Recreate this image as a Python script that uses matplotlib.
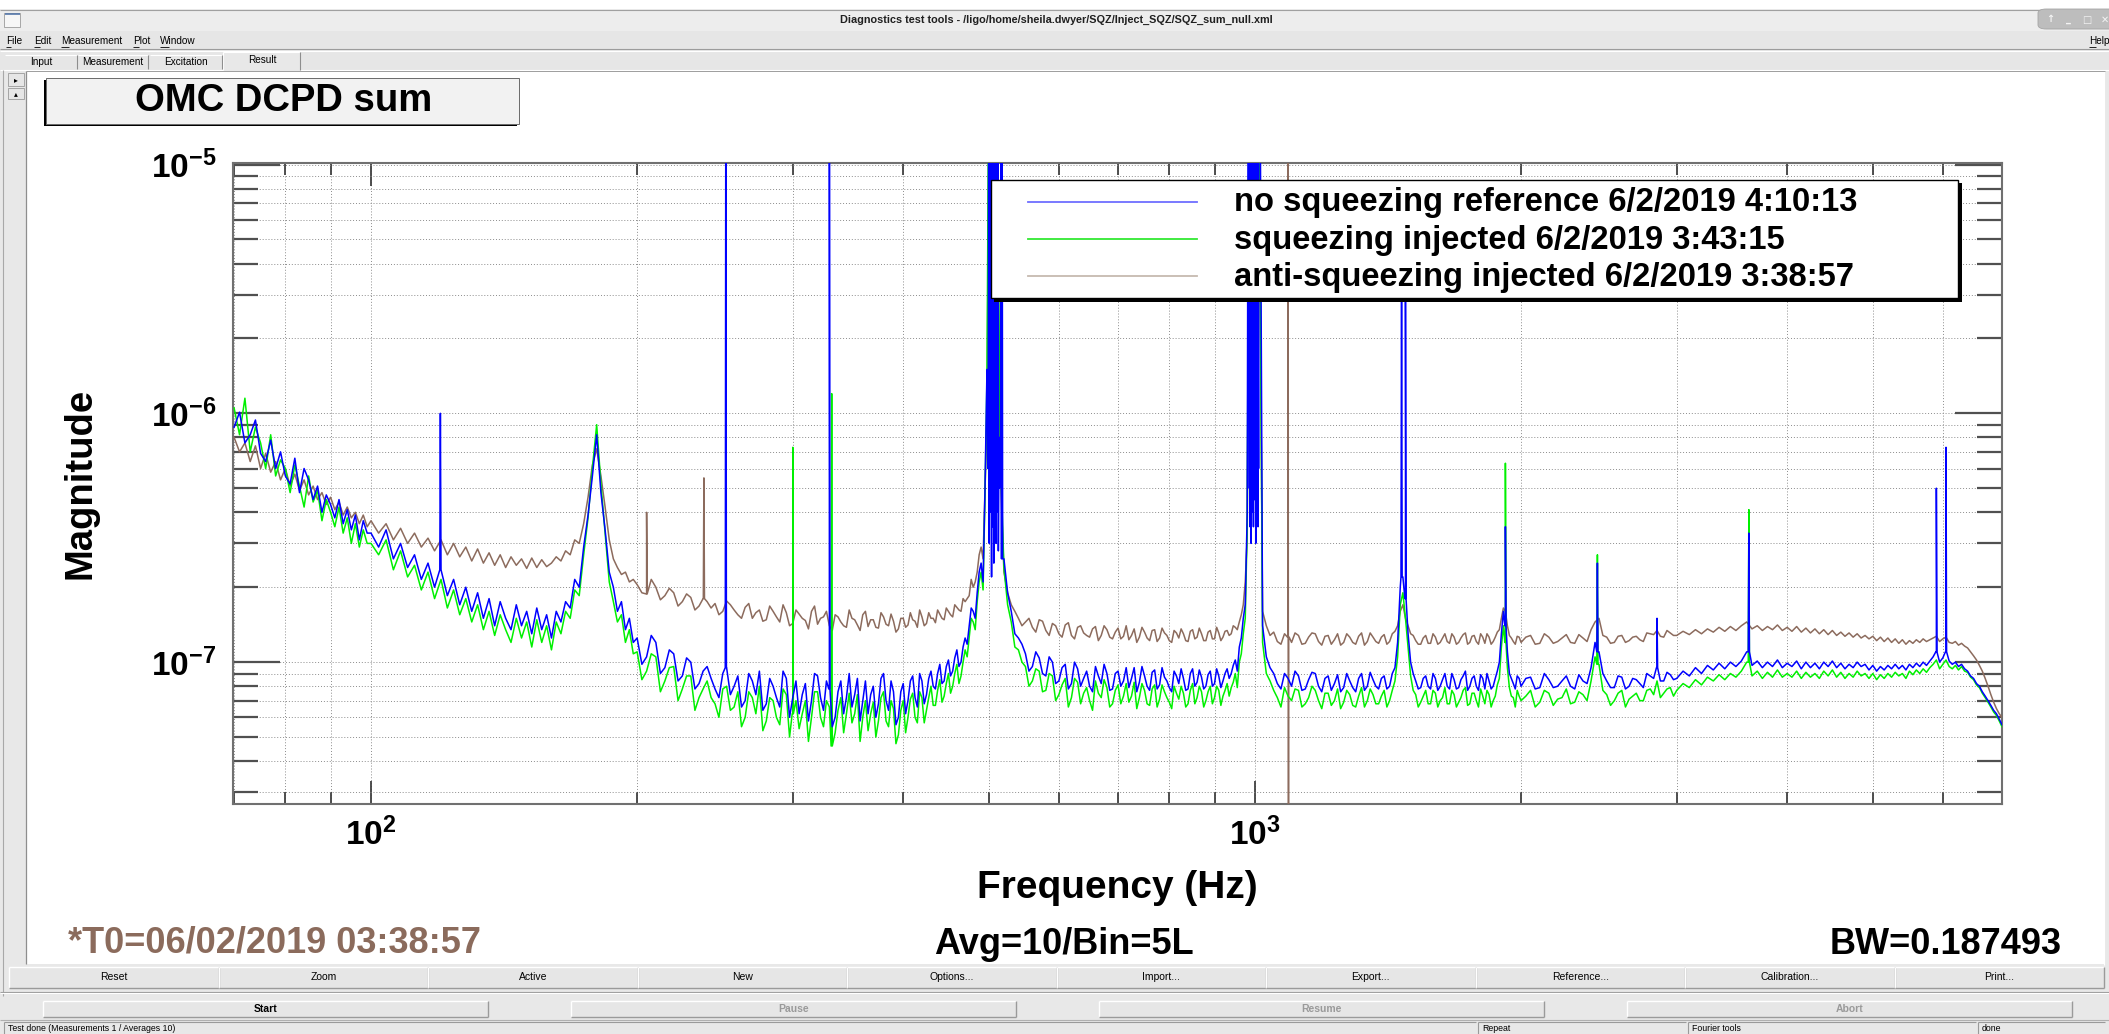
import numpy as np
import matplotlib
matplotlib.use('Agg')
import matplotlib.pyplot as plt
from matplotlib.patches import Rectangle, FancyBboxPatch
from matplotlib.lines import Line2D
from matplotlib.ticker import LogLocator, NullFormatter

plt.rcParams['font.family'] = ['Liberation Sans', 'DejaVu Sans']
plt.rcParams['mathtext.fontset'] = 'custom'
plt.rcParams['mathtext.rm'] = 'Liberation Sans'
plt.rcParams['mathtext.bf'] = 'Liberation Sans:bold'
plt.rcParams['mathtext.it'] = 'Liberation Sans:italic'

# ------------------------------------------------------------------ data
freq_hz = [
    70, 71, 72, 73, 74, 75, 76, 77, 78, 79, 80, 81, 82, 83, 84, 85, 86, 87, 88, 89,
    90, 91, 92, 93, 94, 95, 96, 97, 98, 99,
    100, 102, 104, 106, 108, 110, 112, 114, 116, 118, 120, 122, 124, 126, 128, 130, 132, 134, 136, 138,
    140, 142, 144, 146, 148, 150, 152, 154, 156, 158, 160, 162, 164, 166, 168, 170, 172, 174, 176, 178,
    180, 182, 184, 186, 188, 190, 192, 194, 196, 198,
    200, 205, 210, 215, 220, 225, 230, 235, 240, 245, 250, 255, 260, 265, 270, 275, 280, 285, 290, 295,
    300, 305, 310, 315, 320, 325, 330, 335, 340, 345, 350, 355, 360, 365, 370, 375, 380, 385, 390, 395,
    400, 405, 410, 415, 420, 425, 430, 435, 440, 445, 450, 455, 460, 465, 470, 475, 480, 485, 490, 495,
    500, 510, 520, 530, 540, 550, 560, 570, 580, 590, 600, 610, 620, 630, 640, 650, 660, 670, 680, 690,
    700, 710, 720, 730, 740, 750, 760, 770, 780, 790, 800, 810, 820, 830, 840, 850, 860, 870, 880, 890,
    900, 910, 920, 930, 940, 950, 960, 970, 980, 990,
    1000, 1020, 1040, 1060, 1080, 1100, 1120, 1140, 1160, 1180, 1200, 1220, 1240, 1260, 1280, 1300,
    1320, 1340, 1360, 1380, 1400, 1420, 1440, 1460, 1480, 1500, 1520, 1540, 1560, 1580, 1600, 1620,
    1640, 1660, 1680, 1700, 1720, 1740, 1760, 1780, 1800, 1820, 1840, 1860, 1880, 1900, 1920, 1940,
    1960, 1980,
    2000, 2050, 2100, 2150, 2200, 2250, 2300, 2350, 2400, 2450, 2500, 2550, 2600, 2650, 2700, 2750,
    2800, 2850, 2900, 2950, 3000, 3050, 3100, 3150, 3200, 3250, 3300, 3350, 3400, 3450, 3500, 3550,
    3600, 3650, 3700, 3750, 3800, 3850, 3900, 3950, 4000, 4050, 4100, 4150, 4200, 4250, 4300, 4350,
    4400, 4450, 4500, 4550, 4600, 4650, 4700, 4750, 4800, 4850, 4900, 4950, 5000, 5050, 5100, 5150,
    5200, 5250, 5300, 5350, 5400, 5450, 5500, 5550, 5600, 5650, 5700, 5750, 5800, 5850, 5900, 5950,
    6000, 6050, 6100, 6150, 6200, 6250, 6300, 6350, 6400, 6450, 6500, 6550, 6600, 6650, 6700, 6750,
    6800, 6850, 6900, 6950, 7000,
]

# magnitudes in units of 1e-9
blue_e9 = [
    880, 1010, 760, 820, 940, 690, 640, 780, 600, 700, 560, 520, 660, 480, 600, 540, 450, 510, 400, 470,
    430, 380, 450, 360, 410, 340, 390, 310, 370, 330,
    330, 290, 340, 260, 300, 240, 270, 215, 250, 200, 235, 185, 215, 170, 200, 160, 190, 150, 180, 140,
    175, 150, 135, 170, 140, 160, 130, 165, 135, 155, 125, 160, 145, 175, 165, 215, 200, 290, 390, 560,
    820, 480, 340, 230, 200, 160, 175, 135, 150, 120,
    125, 105, 120, 95, 108, 88, 100, 82, 96, 78, 90, 74, 88, 70, 84, 92, 68, 80, 66, 86,
    72, 62, 82, 70, 88, 64, 78, 60, 84, 72, 66, 86, 70, 62, 80, 68, 90, 64, 76, 60,
    82, 70, 88, 66, 84, 74, 92, 78, 98, 84, 102, 92, 112, 100, 125, 140, 160, 190, 250, 500,
    30000, 30000, 260, 160, 125, 108, 96, 104, 88, 100, 84, 98, 82, 94, 86, 80, 96, 82, 90, 78,
    92, 84, 79, 95, 83, 88, 77, 93, 81, 87, 79, 92, 82, 86, 78, 94, 83, 87, 80, 92,
    82, 88, 84, 94, 90, 102, 115, 150, 400, 30000,
    30000, 140, 95, 82, 90, 80, 88, 78, 91, 80, 86, 77, 89, 79, 84, 76, 90, 80, 85, 78,
    88, 80, 95, 200, 180, 100, 84, 79, 88, 78, 86, 80, 90, 78, 85, 79, 88, 77, 86, 80,
    89, 78, 84, 80, 92, 130, 140, 90, 82, 88,
    80, 87, 79, 85, 80, 88, 78, 84, 95, 110, 84, 79, 87, 80, 85, 79, 88, 95, 84, 89,
    86, 92, 88, 95, 90, 97, 93, 99, 94, 100, 96, 101, 110, 97, 101, 95, 100, 96, 102, 95,
    99, 96, 101, 94, 100, 95, 99, 94, 100, 96, 101, 95, 99, 94, 98, 95, 100, 96, 98, 93,
    97, 92, 96, 93, 97, 94, 98, 94, 97, 93, 98, 95, 99, 96, 100, 97, 101, 105, 110, 100,
    104, 110, 101, 98, 100, 96, 98, 94, 92, 88, 86, 82, 80, 76, 73, 70, 67, 64, 62, 59,
    56,
]
green_e9 = [
    1050, 820, 1150, 700, 880, 760, 600, 820, 560, 650, 600, 480, 620, 510, 420, 560, 440, 490, 370, 450,
    400, 350, 420, 330, 380, 300, 360, 290, 340, 300,
    300, 270, 310, 235, 280, 220, 245, 195, 230, 180, 215, 165, 195, 155, 180, 145, 170, 135, 160, 128,
    155, 135, 120, 150, 125, 145, 115, 148, 120, 140, 112, 145, 130, 160, 150, 195, 185, 270, 380, 600,
    900, 520, 330, 210, 175, 145, 155, 120, 135, 108,
    110, 92, 105, 84, 96, 78, 88, 72, 84, 68, 78, 64, 76, 60, 72, 80, 58, 70, 56, 74,
    62, 54, 70, 60, 76, 55, 66, 52, 72, 62, 57, 74, 60, 53, 69, 58, 76, 55, 65, 51,
    70, 60, 75, 57, 72, 64, 80, 67, 85, 73, 90, 80, 98, 88, 112, 125, 145, 175, 230, 470,
    28000, 28000, 240, 145, 112, 96, 84, 92, 77, 88, 74, 86, 72, 83, 75, 70, 84, 72, 79, 68,
    81, 73, 69, 83, 72, 77, 67, 81, 71, 76, 69, 80, 71, 75, 68, 82, 72, 76, 70, 80,
    72, 77, 73, 82, 79, 90, 100, 130, 350, 28000,
    28000, 120, 84, 72, 79, 70, 77, 68, 80, 70, 75, 67, 78, 69, 74, 66, 79, 70, 74, 68,
    77, 70, 84, 170, 150, 88, 74, 69, 77, 68, 75, 70, 79, 68, 74, 69, 77, 67, 75, 70,
    78, 68, 74, 70, 81, 115, 120, 79, 72, 77,
    70, 77, 69, 75, 71, 78, 69, 74, 84, 98, 74, 70, 77, 71, 75, 70, 78, 84, 75, 79,
    77, 82, 79, 85, 81, 87, 84, 89, 85, 90, 87, 92, 100, 88, 92, 86, 91, 87, 93, 87,
    90, 87, 92, 86, 91, 87, 90, 86, 92, 88, 93, 87, 91, 86, 90, 87, 92, 88, 90, 86,
    90, 85, 89, 86, 90, 87, 91, 88, 90, 86, 92, 89, 93, 90, 94, 91, 95, 98, 102, 94,
    98, 102, 96, 94, 97, 93, 96, 92, 91, 87, 85, 81, 79, 75, 72, 69, 66, 63, 61, 58,
    55,
]
brown_e9 = [
    800, 700, 760, 640, 740, 600, 690, 580, 640, 540, 600, 510, 570, 490, 540, 470, 510, 450, 480, 430,
    460, 410, 440, 390, 420, 380, 400, 360, 390, 350,
    370, 330, 360, 310, 345, 300, 330, 290, 315, 280, 310, 270, 300, 265, 290, 255, 285, 250, 275, 245,
    270, 240, 265, 245, 260, 238, 262, 240, 258, 242, 250, 265, 255, 280, 270, 310, 300, 360, 460, 620,
    720, 560, 420, 310, 260, 240, 225, 230, 210, 215,
    205, 188, 200, 185, 190, 175, 182, 168, 175, 172, 160, 170, 155, 166, 150, 162, 148, 160, 145, 158,
    143, 156, 147, 160, 142, 152, 140, 155, 145, 138, 150, 141, 155, 139, 148, 137, 152, 140, 146, 136,
    150, 141, 148, 138, 152, 143, 150, 144, 156, 148, 160, 152, 166, 160, 175, 185, 200, 230, 290, 500,
    15000, 15000, 230, 170, 150, 145, 138, 148, 134, 143, 130, 141, 128, 138, 131, 126, 139, 128, 135, 124,
    137, 127, 123, 136, 126, 132, 122, 135, 125, 131, 122, 134, 125, 130, 121, 135, 126, 130, 122, 134,
    124, 131, 126, 134, 130, 138, 145, 170, 320, 15000,
    15000, 160, 128, 121, 130, 120, 128, 119, 131, 121, 127, 118, 130, 120, 126, 118, 131, 121, 126, 119,
    129, 121, 133, 160, 150, 130, 122, 118, 128, 119, 126, 120, 130, 119, 126, 120, 129, 118, 127, 121,
    130, 119, 126, 121, 132, 150, 160, 128, 121, 127,
    120, 128, 119, 126, 121, 129, 119, 125, 135, 150, 126, 120, 128, 122, 127, 121, 130, 134, 126, 131,
    128, 133, 129, 135, 130, 136, 132, 138, 133, 139, 134, 140, 145, 136, 140, 134, 139, 135, 141, 134,
    138, 133, 139, 132, 137, 131, 136, 130, 135, 129, 134, 128, 132, 127, 131, 126, 130, 125, 128, 124,
    127, 122, 126, 121, 125, 120, 124, 119, 123, 118, 122, 119, 123, 120, 124, 121, 123, 125, 127, 121,
    124, 126, 120, 119, 121, 117, 119, 116, 114, 110, 106, 102, 97, 92, 86, 80, 74, 69, 65, 62,
    60,
]

# in-between bins (200 Hz - 3 kHz), same units
fine_freq_hz = [
    202.5, 207.5, 212.5, 217.5, 222.5, 227.5, 232.5, 237.5, 242.5, 247.5,
    252.5, 257.5, 262.5, 267.5, 272.5, 277.5, 282.5, 287.5, 292.5, 297.5,
    302.5, 307.5, 312.5, 317.5, 322.5, 327.5, 332.5, 337.5, 342.5, 347.5,
    352.5, 357.5, 362.5, 367.5, 372.5, 377.5, 382.5, 387.5, 392.5, 397.5,
    402.5, 407.5, 412.5, 417.5, 422.5, 427.5, 432.5, 437.5, 442.5, 447.5,
    452.5, 457.5, 462.5, 467.5, 472.5, 477.5, 482.5, 487.5, 492.5, 497.5,
    505, 515, 525, 535, 545, 555, 565, 575, 585, 595,
    605, 615, 625, 635, 645, 655, 665, 675, 685, 695,
    705, 715, 725, 735, 745, 755, 765, 775, 785, 795,
    805, 815, 825, 835, 845, 855, 865, 875, 885, 895,
    905, 915, 925, 935, 945, 955, 965, 975, 985, 995,
    1010, 1030, 1050, 1070, 1090, 1110, 1130, 1150, 1170, 1190,
    1210, 1230, 1250, 1270, 1290, 1310, 1330, 1350, 1370, 1390,
    1410, 1430, 1450, 1470, 1490, 1510, 1530, 1550, 1570, 1590,
    1610, 1630, 1650, 1670, 1690, 1710, 1730, 1750, 1770, 1790,
    1810, 1830, 1850, 1870, 1890, 1910, 1930, 1950, 1970, 1990,
    2025, 2075, 2125, 2175, 2225, 2275, 2325, 2375, 2425, 2475,
    2525, 2575, 2625, 2675, 2725, 2775, 2825, 2875, 2925, 2975,
]
blue_fine_e9 = [
    98, 128, 90, 112, 84, 104, 78, 92, 86, 72,
    95, 80, 66, 90, 74, 64, 86, 72, 92, 60,
    84, 74, 58, 90, 72, 84, 55, 76, 62, 90,
    74, 58, 84, 74, 60, 86, 70, 84, 56, 76,
    62, 84, 72, 90, 68, 86, 80, 90, 82, 96,
    88, 104, 96, 115, 118, 165, 150, 230, 210, 1500,
    30000, 800, 190, 130, 118, 92, 110, 90, 105, 82,
    95, 78, 100, 80, 92, 76, 88, 98, 77, 90,
    80, 95, 86, 76, 96, 80, 91, 78, 95, 84,
    76, 88, 94, 77, 90, 80, 93, 78, 89, 80,
    94, 79, 90, 86, 97, 92, 125, 170, 30000, 30000,
    30000, 105, 90, 78, 86, 92, 77, 85, 90, 76,
    88, 82, 76, 90, 79, 86, 77, 91, 80, 86,
    78, 90, 120, 220, 130, 90, 78, 86, 80, 90,
    77, 85, 80, 90, 78, 85, 92, 80, 88, 77,
    86, 90, 78, 86, 100, 160, 110, 86, 78, 86,
    86, 78, 90, 79, 84, 80, 89, 82, 120, 90,
    79, 88, 78, 86, 82, 90, 86, 84, 91, 85,
]
green_fine_e9 = [
    85, 108, 76, 95, 70, 88, 64, 78, 72, 60,
    80, 66, 55, 76, 62, 53, 72, 60, 78, 50,
    70, 62, 48, 76, 60, 70, 46, 64, 52, 75,
    62, 48, 70, 62, 50, 72, 58, 70, 47, 64,
    52, 71, 60, 76, 57, 72, 67, 77, 69, 82,
    75, 90, 82, 100, 105, 150, 135, 210, 195, 1400,
    28000, 700, 170, 115, 100, 80, 94, 76, 90, 70,
    81, 66, 86, 68, 79, 64, 75, 85, 66, 77,
    68, 82, 73, 65, 82, 68, 78, 66, 81, 72,
    65, 75, 80, 66, 77, 68, 80, 66, 76, 68,
    80, 67, 77, 73, 83, 79, 108, 150, 28000, 28000,
    28000, 90, 77, 66, 73, 78, 66, 72, 77, 65,
    75, 70, 65, 77, 67, 73, 66, 78, 68, 73,
    66, 77, 105, 190, 115, 77, 66, 73, 68, 77,
    66, 72, 68, 77, 66, 72, 79, 68, 75, 66,
    73, 77, 66, 73, 86, 140, 95, 73, 66, 73,
    73, 66, 77, 67, 72, 68, 76, 70, 105, 77,
    67, 75, 66, 73, 70, 77, 74, 72, 78, 73,
]
brown_fine_e9 = [
    190, 215, 178, 198, 168, 188, 162, 180, 165, 155,
    176, 162, 150, 172, 158, 146, 168, 152, 170, 140,
    162, 150, 136, 168, 150, 160, 134, 152, 140, 162,
    148, 134, 160, 148, 138, 158, 142, 156, 132, 150,
    138, 158, 146, 162, 140, 158, 150, 162, 150, 165,
    155, 170, 162, 180, 180, 215, 210, 270, 260, 900,
    15000, 600, 190, 160, 140, 150, 132, 146, 128, 140,
    126, 144, 124, 140, 128, 136, 122, 140, 126, 132,
    124, 140, 128, 120, 138, 125, 134, 121, 137, 128,
    120, 131, 136, 122, 133, 124, 137, 122, 132, 124,
    138, 122, 133, 128, 140, 135, 155, 210, 15000, 15000,
    15000, 140, 132, 118, 126, 131, 118, 126, 130, 117,
    128, 123, 117, 130, 120, 127, 117, 131, 121, 126,
    118, 130, 140, 170, 140, 128, 118, 125, 119, 130,
    118, 125, 121, 130, 118, 125, 131, 120, 128, 118,
    126, 130, 118, 126, 135, 165, 140, 125, 118, 126,
    126, 118, 130, 119, 125, 120, 129, 121, 145, 128,
    119, 127, 120, 126, 123, 131, 129, 127, 134, 128,
]

# narrow lines (frequency in Hz, line tip magnitude)
blue_spike_hz = [119.8, 252, 330,
                 498.5, 500.5, 502, 503.5, 505, 506.5, 508, 509.5, 511, 512.5, 514, 516, 517.5,
                 984, 985.5, 987, 988.5, 990, 991.5, 993, 994.5, 996, 997.5, 999, 1000.5,
                 1002, 1003.5, 1005, 1006.5, 1008, 1009.5, 1011.5,
                 1465, 1480, 1920, 2440, 2850, 3620, 5900, 6050]
blue_spike_mag = [1.0e-6, 3e-5, 3e-5,
                  6e-7, 3e-7, 4e-7, 2.2e-7, 3.5e-7, 2.5e-7, 5e-7, 3e-7, 4e-7, 2.8e-7, 5e-7, 3e-5, 3e-5,
                  3e-5, 5e-7, 3.5e-7, 6e-7, 3e-7, 8e-7, 4e-7, 1e-6, 3.5e-7, 7e-7, 4.5e-7, 9e-7,
                  3e-7, 6e-7, 4e-7, 8e-7, 3.5e-7, 6e-7, 3e-5,
                  3.7e-6, 2.9e-6, 3.5e-7, 2.5e-7, 1.5e-7, 3.3e-7, 5.0e-7, 7.3e-7]
green_spike_hz = [300, 332, 1920, 2440, 3620]
green_spike_mag = [7.3e-7, 1.2e-6, 6.3e-7, 2.7e-7, 4.1e-7]
brown_spike_hz = [205, 238, 1090, 1091.5]
brown_spike_mag = [4.0e-7, 5.5e-7, 1e-3, 1e-11]

series_labels = ['no squeezing reference 6/2/2019 4:10:13',
                 'squeezing injected 6/2/2019 3:43:15',
                 'anti-squeezing injected 6/2/2019 3:38:57']
series_colors = ['#0000ff', '#00f000', '#8c6b5d']
legend_colors = ['#6e6eff', '#33e833', '#c6bab0']

# ------------------------------------------------------------------ figure helpers
W, H = 2109, 1034
fig = plt.figure(figsize=(W / 100, H / 100), dpi=100)
fig.patch.set_facecolor('#e8e8e8')


def fx(x):
    return x / W


def fy(y):
    return 1 - y / H


def rect(x0, y0, x1, y1, fc, ec='none', lw=0, z=0):
    fig.patches.append(Rectangle((fx(x0), fy(y1)), (x1 - x0) / W, (y1 - y0) / H,
                                 transform=fig.transFigure, facecolor=fc,
                                 edgecolor=ec, linewidth=lw, zorder=z))


def line(x0, y0, x1, y1, color, lw=0.8, z=1):
    fig.lines.append(Line2D([fx(x0), fx(x1)], [fy(y0), fy(y1)], transform=fig.transFigure,
                            color=color, linewidth=lw, zorder=z, solid_capstyle='butt'))


def text(x, y, s, size=7.5, weight='normal', color='black', ha='center', va='center', **kw):
    fig.text(fx(x), fy(y), s, fontsize=size, fontweight=weight, color=color,
             ha=ha, va=va, **kw)


def button(x0, y0, x1, y1, label, color='black', weight='normal', size=7.5):
    rect(x0, y0, x1, y1, '#e6e6e6')
    line(x0, y0, x1, y0, '#ffffff', 1)
    line(x0, y0, x0, y1, '#ffffff', 1)
    line(x0, y1, x1, y1, '#9a9a9a', 1)
    line(x1, y0, x1, y1, '#9a9a9a', 1)
    text((x0 + x1) / 2, (y0 + y1) / 2, label, size=size, weight=weight, color=color)


def field(x0, y0, x1, y1, label):
    line(x0, y0, x1, y0, '#9a9a9a', 0.8)
    line(x0, y0, x0, y1, '#9a9a9a', 0.8)
    text(x0 + 4, (y0 + y1) / 2 + 0.5, label, size=6.3, ha='left')


# ------------------------------------------------------------------ window chrome
rect(0, 0, W, 9, 'white')
rect(0, 9, W, 31, '#ededed')
line(0, 9.5, W, 9.5, '#a0a0a0', 0.8)
rect(4, 13, 20, 27, '#f6f6f6', ec='#9a9a9a', lw=0.6)
line(4.5, 14, 19.5, 14, '#5577aa', 1.2)
text(1056, 20, 'Diagnostics test tools - /ligo/home/sheila.dwyer/SQZ/Inject_SQZ/SQZ_sum_null.xml',
     size=7.8, weight='bold', color='#202020')
fig.patches.append(FancyBboxPatch((fx(2038), fy(29)), (2120 - 2038) / W, 20 / H,
                                  boxstyle='round,pad=0,rounding_size=0.004',
                                  transform=fig.transFigure, facecolor='#bdbdbd',
                                  edgecolor='#a5a5a5', linewidth=0.6, zorder=1))
for xx, g in [(2050, '\u2191'), (2068, '_'), (2087, '\u25a1'), (2105, '\u2715')]:
    text(xx, 19.5, g, size=7, color='#f4f4f4', weight='bold', family=['DejaVu Sans'])

# menu bar
rect(0, 31, W, 49, '#e6e6e6')
for xx, s, ul in [(6, 'File', 5), (34, 'Edit', 6), (61, 'Measurement', 8),
                  (133, 'Plot', 6), (160, 'Window', 9), (2089, 'Help', 7)]:
    text(xx, 41, s, size=7.2, ha='left')
    line(xx, 46.5, xx + ul, 46.5, 'black', 0.6)
line(0, 49, W, 49, '#9c9c9c', 0.8)
line(0, 50.5, W, 50.5, '#ffffff', 0.8)

# tab bar
rect(0, 51, W, 70, '#e6e6e6')
line(0, 69.5, 223, 69.5, '#ffffff', 0.8)
line(300, 69.5, W, 69.5, '#ffffff', 0.8)
line(2104, 70, 2104, 965, '#ffffff', 0.8)
rect(223, 52, 300, 71, '#e8e8e8')
line(223, 52, 300, 52, '#ffffff', 0.8)
line(223, 52, 223, 70, '#ffffff', 0.8)
line(300, 52, 300, 70, '#8e8e8e', 0.8)
for x0, x1, s in [(5, 77, 'Input'), (78, 148, 'Measurement'), (150, 222, 'Excitation')]:
    line(x0, 55, x1, 55, '#ffffff', 0.8)
    line(x1, 55, x1, 69, '#8e8e8e', 0.8)
    text((x0 + x1) / 2, 62, s, size=7.2)
text(262, 60, 'Result', size=7.2)

# main panel
rect(26, 71, 2105, 964, 'white', z=-1)
line(26, 71, 26, 964, '#8e8e8e', 0.9)
line(26, 71, 2105, 71, '#8e8e8e', 0.6)
line(2.5, 70, 2.5, 996, '#a8a8a8', 0.8)
for y0, y1, g in [(73, 86, '\u25b8'), (88, 99, '\u25b4')]:
    rect(8, y0, 24, y1, '#e6e6e6', ec='#9a9a9a', lw=0.6)
    text(16, (y0 + y1) / 2, g, size=5.5, family=['DejaVu Sans'])

# buttons row 1
row1 = ['Reset', 'Zoom', 'Active', 'New', 'Options...', 'Import...', 'Export...',
        'Reference...', 'Calibration...', 'Print...']
bw = 209.5
for i, s in enumerate(row1):
    button(9 + i * bw, 967, 9 + (i + 1) * bw, 988, s)
line(0, 991.5, W, 991.5, '#9c9c9c', 0.8)
line(0, 993, W, 993, '#ffffff', 0.8)

# buttons row 2
for i, (s, c, wgt) in enumerate([('Start', 'black', 'bold'), ('Pause', '#9a9a9a', 'bold'),
                                 ('Resume', '#9a9a9a', 'bold'), ('Abort', '#9a9a9a', 'bold')]):
    x0 = 43 + i * 528
    button(x0, 1001, x0 + 445, 1017, s, color=c, weight=wgt, size=7.5)
line(0, 1020, W, 1020, '#b0b0b0', 0.8)

# status bar
for x0, x1, s in [(4, 1476, 'Test done (Measurements 1 / Averages 10)'),
                  (1478, 1686, 'Repeat'), (1688, 1976, 'Fourier tools'), (1978, 2105, 'done')]:
    field(x0, 1022, x1, 1034, s)

# ------------------------------------------------------------------ plot
ax = fig.add_axes([fx(233), fy(804), (2002 - 233) / W, (804 - 163) / H])
ax.set_zorder(5)
ax.set_facecolor('white')
ax.set_xscale('log')
ax.set_yscale('log')


def build(f, m_e9, ff, fm_e9, sf, sm):
    n1 = min(len(f), len(m_e9))
    n2 = min(len(ff), len(fm_e9))
    pts = [(a, b * 1e-9) for a, b in zip(f[:n1], m_e9[:n1])]
    pts += [(a, b * 1e-9) for a, b in zip(ff[:n2], fm_e9[:n2])]
    pts.sort()
    gf = [p[0] for p in pts]
    gm = [p[1] for p in pts]
    for s, pk in zip(sf, sm):
        k = int(np.argmin([abs(np.log(x / s)) for x in gf]))
        base = gm[k]
        pts += [(s * 0.9985, base), (s, pk), (s * 1.0015, base)]
    pts.sort()
    xs, ys = zip(*pts)
    return xs, ys


curves = [
    build(freq_hz, blue_e9, fine_freq_hz, blue_fine_e9, blue_spike_hz, blue_spike_mag),
    build(freq_hz, green_e9, fine_freq_hz, green_fine_e9, green_spike_hz, green_spike_mag),
    build(freq_hz, brown_e9, fine_freq_hz, brown_fine_e9, brown_spike_hz, brown_spike_mag),
]
for idx in [2, 1, 0]:
    xs, ys = curves[idx]
    ax.plot(xs, ys, color=series_colors[idx], lw=1.1, zorder=3 + (2 - idx))

ax.set_xlim(69.8, 7000)
ax.set_ylim(2.69e-8, 1.014e-5)

ax.set_axisbelow(True)
ax.grid(True, which='both', linestyle=(0, (1, 2)), color='#8c8c8c', linewidth=0.7)
for sp in ax.spines.values():
    sp.set_color('#707070')
    sp.set_linewidth(1.5)

ax.xaxis.set_minor_locator(LogLocator(base=10, subs=np.arange(2, 10)))
ax.yaxis.set_minor_locator(LogLocator(base=10, subs=np.arange(2, 10)))
ax.xaxis.set_minor_formatter(NullFormatter())
ax.yaxis.set_minor_formatter(NullFormatter())
ax.set_xticks([100, 1000], [r'$\mathbf{10^{2}}$', r'$\mathbf{10^{3}}$'])
ax.set_yticks([1e-7, 1e-6, 1e-5], [r'$\mathbf{10^{-7}}$', r'$\mathbf{10^{-6}}$', r'$\mathbf{10^{-5}}$'])
ax.tick_params(axis='y', which='major', direction='in', length=34, width=1.6, color='#505050',
               left=True, right=True, labelsize=24, pad=12)
ax.tick_params(axis='y', which='minor', direction='in', length=18, width=1.6, color='#505050',
               left=True, right=True)
ax.tick_params(axis='x', which='major', direction='in', length=16.5, width=1.3, color='#404040',
               top=True, bottom=True, labelsize=24, pad=10)
ax.tick_params(axis='x', which='minor', direction='in', length=8.6, width=1.3, color='#404040',
               top=True, bottom=True)

ax.set_xlabel('Frequency (Hz)', fontsize=28, fontweight='bold')
ax.xaxis.set_label_coords(0.5, -0.103)
ax.set_ylabel('Magnitude', fontsize=27.5, fontweight='bold')
ax.yaxis.set_label_coords(-0.076, 0.5)

# legend (box with shadow, drawn over the axes)
rect(994, 183, 1962, 302, 'black', z=10)
rect(991, 180, 1958, 298, 'white', ec='black', lw=1.0, z=11)
for i, (lab, c) in enumerate(zip(series_labels, legend_colors)):
    yy = 203.0 + i * 37.2
    fig.lines.append(Line2D([fx(1028), fx(1197)], [fy(yy - 1), fy(yy - 1)], transform=fig.transFigure,
                            color=c, linewidth=1.3, zorder=12))
    fig.text(fx(1234), fy(yy), lab, fontsize=23.6, fontweight='bold', ha='left', va='center',
             zorder=12)

# plot title box
rect(44, 80, 517, 126, 'black', z=10)
rect(46, 78, 519, 124, '#f2f2f2', ec='#6a6a6a', lw=0.7, z=11)
fig.text(fx(284), fy(101), 'OMC DCPD sum', fontsize=27.5, fontweight='bold', ha='center',
         va='center', zorder=12)

# footer texts
text(68, 943, '*T0=06/02/2019 03:38:57', size=26, weight='bold', color='#8b6b5c', ha='left')
text(1064, 944, 'Avg=10/Bin=5L', size=26, weight='bold')
text(2062, 944, 'BW=0.187493', size=26, weight='bold', ha='right')

fig.savefig('out.png', dpi=100, facecolor=fig.get_facecolor())
